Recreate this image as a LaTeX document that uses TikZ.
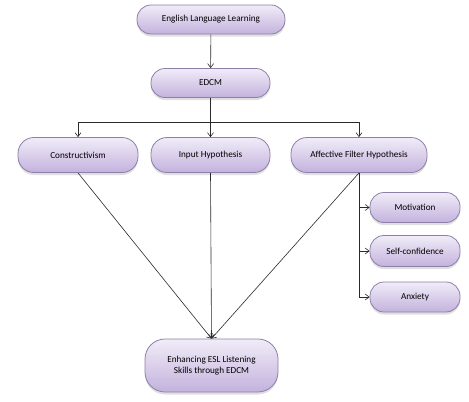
\documentclass[tikz,border=0pt]{standalone}
\usepackage{fontspec}
\setmainfont{Carlito}
\usetikzlibrary{arrows.meta,shadows}
\definecolor{boxtop}{HTML}{F1ECF8}
\definecolor{boxbot}{HTML}{C3B2DD}
\definecolor{boxline}{HTML}{8E7FA8}
\definecolor{lnk}{HTML}{2A2A2A}
\tikzset{
  box/.style={draw=boxline, line width=0.8pt, top color=boxtop, bottom color=boxbot,
    rounded corners=14pt, inner sep=0pt, minimum height=30pt,
    font=\fontsize{9.2}{11.5}\selectfont, text=black,
    drop shadow={opacity=0.25, shadow xshift=0pt, shadow yshift=-2.5pt}},
  arr/.style={draw=lnk, line width=0.6pt, -{Straight Barb[length=4pt,width=6pt]}},
  lnkline/.style={draw=lnk, line width=0.6pt}
}
\begin{document}
\begin{tikzpicture}[x=1pt,y=-1pt]
\useasboundingbox (0,0) rectangle (469,402);
\node[box, minimum width=148pt, minimum height=29pt] (ell) at (211,19.5) {English Language Learning};
\node[box, minimum width=119pt, minimum height=29pt] (edcm) at (210.5,83) {EDCM};
\coordinate (bus) at (210.5,122);
\node[box, minimum width=120pt, minimum height=35pt, rounded corners=16pt] (cons) at (78,155) {Constructivism};
\node[box, minimum width=119pt, minimum height=35pt, rounded corners=16pt] (inp) at (210.5,155) {Input Hypothesis};
\node[box, minimum width=136pt, minimum height=35pt, rounded corners=16pt] (aff) at (359,155) {Affective Filter Hypothesis};
\node[box, minimum width=90pt, minimum height=30pt] (mot) at (415,207.5) {Motivation};
\node[box, minimum width=90pt, minimum height=31pt] (self) at (415,251) {Self-confidence};
\node[box, minimum width=90pt, minimum height=30pt] (anx) at (415,297) {Anxiety};
\node[box, minimum width=133pt, minimum height=53pt, rounded corners=20pt, align=center] (bot) at (211.5,365.5) {Enhancing ESL Listening\\Skills through EDCM};
\draw[arr] (ell) -- (edcm);
\draw[lnkline] (edcm.south) -- (bus);
\draw[arr] (bus) -| (cons.north);
\draw[arr] (bus) -- (inp.north);
\draw[arr] (bus) -| (aff.north);
\draw[arr] (cons.south) -- (bot.north);
\draw[arr] (inp.south) -- (bot.north);
\draw[arr] (aff.south) -- (bot.north);
\draw[arr] (aff.south) |- (mot.west);
\draw[arr] (aff.south) |- (self.west);
\draw[arr] (aff.south) |- (anx.west);
\end{tikzpicture}
\end{document}
